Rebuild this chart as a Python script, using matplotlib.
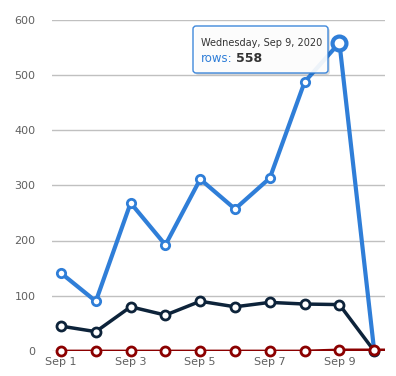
import matplotlib.pyplot as plt
from matplotlib.patches import FancyBboxPatch

# ── Data ──────────────────────────────────────────────────────────────────────
days = ["Sep 1", "Sep 2", "Sep 3", "Sep 4", "Sep 5", "Sep 6", "Sep 7", "Sep 8", "Sep 9", "Sep 10"]
rows = [141, 90, 268, 192, 311, 257, 313, 487, 558, 0]
dark_series = [45, 35, 80, 65, 90, 80, 88, 85, 84, 0]
red_series = [0, 0, 0, 0, 0, 0, 0, 0, 2, 2, 2]
tick_labels = ["Sep 1", "Sep 3", "Sep 5", "Sep 7", "Sep 9"]
y_ticks = [0, 100, 200, 300, 400, 500, 600]

BLUE = "#2f7ed8"
DARK = "#0d233a"
RED = "#8b0000"

fig = plt.figure(figsize=(3.96, 3.76), dpi=100)
ax = fig.add_axes([52 / 396, 25 / 376, 333 / 396, 331.5 / 376])

x = list(range(len(days)))
ax.plot(x, rows, color=BLUE, lw=3, marker="o", ms=6, mfc="white", mec=BLUE, mew=2,
        zorder=3, clip_on=False, solid_joinstyle="round")
ax.plot(x[8], rows[8], marker="o", ms=10, mfc="white", mec=BLUE, mew=3, zorder=6, clip_on=False)
ax.plot(x, dark_series, color=DARK, lw=2.5, marker="o", ms=6.5, mfc="white", mec=DARK, mew=2,
        zorder=4, clip_on=False, solid_joinstyle="round")
# red line runs on past the right edge, markers only for the shown days
ax.plot(range(len(red_series)), red_series, color=RED, lw=2, zorder=5, solid_joinstyle="round")
ax.plot(x, red_series[:len(x)], ls="none", marker="o", ms=6.5, mfc="white", mec=RED, mew=2,
        zorder=7, clip_on=False)

ax.set_xlim(-0.26, 9.31)
ax.set_ylim(0, 600)
ax.set_yticks(y_ticks)
ax.set_xticks([days.index(t) for t in tick_labels])
ax.set_xticklabels(tick_labels)
ax.tick_params(axis="y", length=0, pad=12, labelsize=8, labelcolor="#606060")
ax.tick_params(axis="x", length=0, pad=4, labelsize=8, labelcolor="#606060")
ax.grid(axis="y", color="#c0c0c0", lw=1)
ax.set_axisbelow(True)
for s in ax.spines.values():
    s.set_visible(False)

# tooltip
shadow = FancyBboxPatch((195 / 396, 1 - 75 / 376), 135 / 396, 47 / 376,
                        boxstyle="round,pad=0,rounding_size=0.008", transform=fig.transFigure,
                        fc="#000000", ec="none", alpha=0.12, zorder=9)
box = FancyBboxPatch((193 / 396, 1 - 73 / 376), 135 / 396, 47 / 376,
                     boxstyle="round,pad=0,rounding_size=0.008", transform=fig.transFigure,
                     fc="white", ec=BLUE, lw=1, alpha=0.92, zorder=10)
fig.patches.extend([shadow, box])
fig.text(201 / 396, 1 - 46 / 376, "Wednesday, Sep 9, 2020", fontsize=7, color="#333333", zorder=11)
fig.text(201 / 396, 1 - 62 / 376, "rows:", fontsize=8.5, color=BLUE, zorder=11)
fig.text(236 / 396, 1 - 62 / 376, "558", fontsize=9, color="#333333", fontweight="bold", zorder=11)

fig.savefig("out.png", dpi=100)
